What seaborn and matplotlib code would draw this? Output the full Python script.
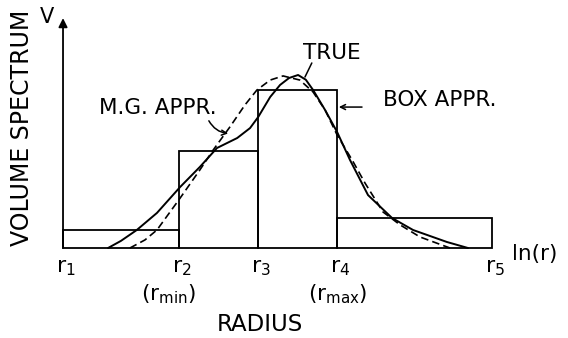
import matplotlib
matplotlib.use("Agg")
import matplotlib.pyplot as plt
import seaborn as sns
import numpy as np

# ---- data (ln(r) axis scaled 0..10, volume spectrum scaled so box 3 = 100) ----
edges = [0.0, 2.70, 4.55, 6.39, 10.0]
box_heights = [11.4, 61.4, 100.0, 19.0]
edge_labels = ["r$_1$", "r$_2$", "r$_3$", "r$_4$", "r$_5$"]
sub_labels = {1: "(r$_{\\mathrm{min}}$)", 3: "(r$_{\\mathrm{max}}$)"}

true_x = [1.05, 1.35, 1.72, 2.19, 2.73, 3.19, 3.59, 4.06, 4.36, 4.55, 4.83, 5.06,
          5.27, 5.48, 5.66, 5.83, 6.11, 6.39, 6.69, 7.11, 7.67, 8.16, 8.95, 9.44]
true_y = [0, 4.5, 11.4, 22.2, 38.6, 51.3, 63.3, 69.6, 75.9, 82.9, 95.6, 103.2,
          107.6, 109.5, 106.5, 100, 87.3, 73.4, 55.7, 33.5, 19.0, 11.4, 3.8, 0]

mg_x = [1.56, 1.91, 2.19, 2.73, 3.19, 3.50, 3.89, 4.24, 4.52, 4.83, 5.13, 5.52,
        5.83, 6.11, 6.39, 6.74, 7.04, 7.46, 7.86, 8.32, 9.02]
mg_y = [0, 5.1, 11.4, 31.6, 49.4, 62.0, 76.6, 90.5, 100, 106.3, 108.9, 106.3,
        98.7, 87.3, 71.5, 55.7, 41.1, 22.8, 14.6, 7.0, 0]

sns.set_theme(style="white")
plt.rcParams['font.family'] = ['DejaVu Sans']
plt.rcParams['mathtext.fontset'] = 'dejavusans'
plt.rcParams['text.color'] = 'black'

fig = plt.figure(figsize=(5.68, 3.38), dpi=100)
ax = fig.add_axes([0, 0, 1, 1])

mids = [(edges[i] + edges[i + 1]) / 2 for i in range(len(box_heights))]
sns.histplot(x=mids, weights=box_heights, bins=edges, fill=False,
             color="black", linewidth=1.3, ax=ax)
for p in ax.patches:
    p.set_edgecolor("black")
    p.set_linewidth(1.3)

sns.lineplot(x=true_x, y=true_y, color="black", linewidth=1.4, ax=ax)
sns.lineplot(x=mg_x, y=mg_y, color="black", linewidth=1.2, ax=ax,
             linestyle=(0, (4.5, 2.5)))

ax.set_xlim(-1.469, 11.772)
ax.set_ylim(-56.96, 156.96)
ax.axis("off")

# y axis with arrow
ax.annotate("", xy=(0, 145.5), xytext=(0, 0),
            arrowprops=dict(arrowstyle="-|>", color="black", lw=1.3,
                            mutation_scale=13, shrinkA=0, shrinkB=0))

fs = 15.5
tc = "black"
ax.text(-0.956, 76, "VOLUME SPECTRUM", rotation=90, ha="center", va="center",
        fontsize=17, color=tc)
ax.text(-0.373, 146, "V", ha="center", va="center", fontsize=15, color=tc)
ax.text(4.59, -48.1, "RADIUS", ha="center", va="center", fontsize=16.5, color=tc)
ax.text(11.0, -3.8, "ln(r)", ha="center", va="center", fontsize=fs, color=tc)

for i, e in enumerate(edges):
    ax.text(e + 0.07, -6.5, edge_labels[i], ha="center", va="top", fontsize=16,
            color=tc)
ax.text(2.47, -21.5, sub_labels[1], ha="center", va="top", fontsize=fs, color=tc)
ax.text(6.41, -21.5, sub_labels[3], ha="center", va="top", fontsize=fs, color=tc)

# annotations
ax.text(6.27, 123.4, "TRUE", ha="center", va="center", fontsize=fs, color=tc)
ax.plot([5.64, 5.80], [108.2, 117.1], color="black", lw=1.1)

ax.text(2.21, 88.6, "M.G. APPR.", ha="center", va="center", fontsize=fs, color=tc)
ax.annotate("", xy=(3.85, 72.5), xytext=(3.40, 80.5),
            arrowprops=dict(arrowstyle="->", color="black", lw=1.1,
                            connectionstyle="arc3,rad=0.25",
                            shrinkA=0, shrinkB=0, mutation_scale=9))

ax.text(8.79, 93.7, "BOX APPR.", ha="center", va="center", fontsize=fs, color=tc)
ax.annotate("", xy=(6.43, 89.2), xytext=(6.97, 89.2),
            arrowprops=dict(arrowstyle="->", color="black", lw=1.1,
                            shrinkA=0, shrinkB=0, mutation_scale=9))

fig.savefig("out.png", dpi=100, facecolor="white")
